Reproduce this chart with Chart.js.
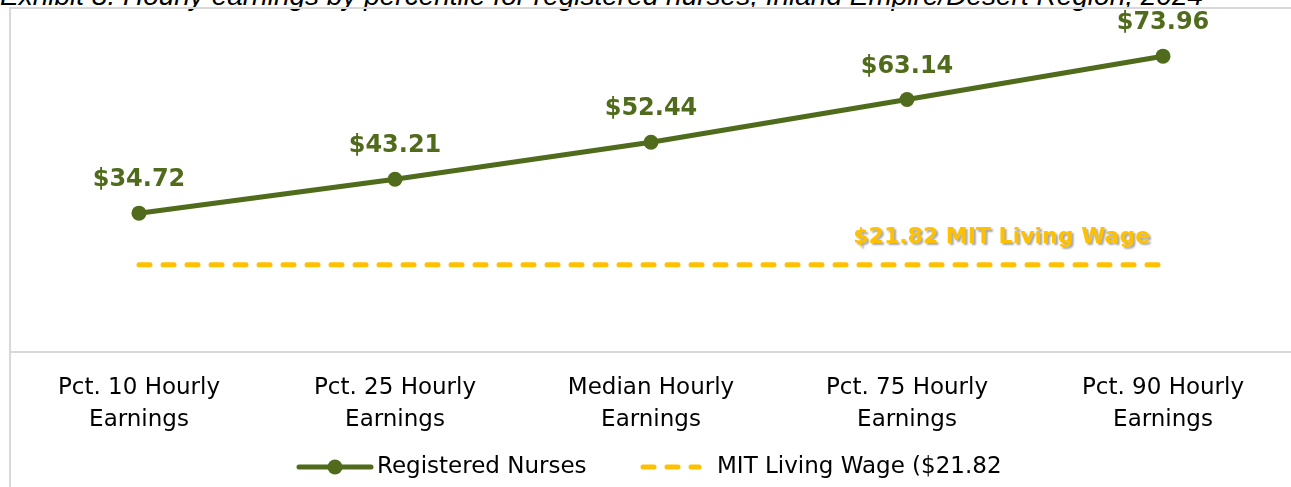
<!DOCTYPE html>
<html>
<head>
<meta charset="utf-8">
<script src="https://cdn.jsdelivr.net/npm/chart.js@4.4.1/dist/chart.umd.min.js"></script>
<style>
  html, body { margin: 0; padding: 0; background: #fff; overflow: hidden; }
  #wrap { position: relative; width: 1291px; height: 487px; overflow: hidden; }
  #title {
    position: absolute; left: 0; top: -20px; white-space: nowrap;
    font: italic 28px "Liberation Sans", Arial, sans-serif; color: #000;
  }
  #frame {
    position: absolute; left: 9px; top: 7px; width: 1290px; height: 490px;
    border-left: 2px solid #d9d9d9; border-top: 2px solid #d9d9d9;
  }
  #chart { position: absolute; left: 0; top: 0; }
</style>
</head>
<body>
<div id="wrap">
  <div id="title">Exhibit 8. Hourly earnings by percentile for registered nurses, Inland Empire/Desert Region, 2024</div>
  <div id="frame"></div>
  <canvas id="chart" width="1291" height="487"></canvas>
</div>
<script>
var categories = [
    ["Pct. 10 Hourly", "Earnings"],
    ["Pct. 25 Hourly", "Earnings"],
    ["Median Hourly", "Earnings"],
    ["Pct. 75 Hourly", "Earnings"],
    ["Pct. 90 Hourly", "Earnings"]
];
var nurseWages = [34.72, 43.21, 52.44, 63.14, 73.96];
var livingWage = [21.82, 21.82, 21.82, 21.82, 21.82];
var livingWageLabel = "$21.82 MIT Living Wage";
var seriesNames = ["Registered Nurses", "MIT Living Wage ($21.82"];

var GREEN = '#4F6B1B';
var GOLD = '#FFC000';
var FONT = '"DejaVu Sans", sans-serif';

// value labels above the nurse points + the living wage caption
var labelPlugin = {
    id: 'labels',
    afterDatasetsDraw: function (chart) {
        var ctx = chart.ctx;
        var meta = chart.getDatasetMeta(0);
        ctx.save();
        ctx.font = 'bold 24px ' + FONT;
        ctx.fillStyle = GREEN;
        ctx.textAlign = 'center';
        ctx.textBaseline = 'middle';
        meta.data.forEach(function (pt, i) {
            ctx.fillText('$' + nurseWages[i].toFixed(2), pt.x, pt.y - 33);
        });

        // caption for living wage line
        var xs = chart.scales.x, ys = chart.scales.y;
        var x3 = xs.getPixelForValue(3), x4 = xs.getPixelForValue(4);
        var cx = x3 + (x4 - x3) * 0.37;
        var cy = ys.getPixelForValue(livingWage[4]) - 27;
        ctx.font = 'bold 22px ' + FONT;
        ctx.shadowColor = 'rgba(0,0,0,0.35)';
        ctx.shadowOffsetX = 2;
        ctx.shadowOffsetY = 2;
        ctx.shadowBlur = 2;
        ctx.fillStyle = GOLD;
        ctx.fillText(livingWageLabel, cx, cy);
        ctx.restore();
    }
};

// legend at the bottom
var legendPlugin = {
    id: 'customLegend',
    afterDraw: function (chart) {
        var ctx = chart.ctx;
        var y = 467;
        ctx.save();
        ctx.lineCap = 'round';
        // nurses
        ctx.strokeStyle = GREEN;
        ctx.lineWidth = 5;
        ctx.beginPath();
        ctx.moveTo(299, y);
        ctx.lineTo(371, y);
        ctx.stroke();
        ctx.fillStyle = GREEN;
        ctx.beginPath();
        ctx.arc(335, y, 7.5, 0, Math.PI * 2);
        ctx.fill();
        // living wage
        ctx.strokeStyle = GOLD;
        ctx.setLineDash([11, 13]);
        ctx.beginPath();
        ctx.moveTo(643, y);
        ctx.lineTo(699, y);
        ctx.stroke();
        ctx.setLineDash([]);

        ctx.font = '23px ' + FONT;
        ctx.fillStyle = '#000';
        ctx.textAlign = 'left';
        ctx.textBaseline = 'middle';
        ctx.fillText(seriesNames[0], 377, y);
        ctx.fillText(seriesNames[1], 717, y);
        ctx.restore();
    }
};

new Chart(document.getElementById('chart').getContext('2d'), {
    type: 'line',
    data: {
        labels: categories,
        datasets: [{
            label: seriesNames[0],
            data: nurseWages,
            borderColor: GREEN,
            backgroundColor: GREEN,
            borderWidth: 5,
            pointRadius: 7.5,
            pointBorderWidth: 0,
            pointBackgroundColor: GREEN,
            tension: 0
        }, {
            label: seriesNames[1],
            data: livingWage,
            borderColor: GOLD,
            borderWidth: 5,
            borderDash: [11, 13],
            borderCapStyle: 'round',
            pointRadius: 0,
            tension: 0
        }]
    },
    options: {
        responsive: false,
        animation: false,
        layout: {
            autoPadding: false,
            padding: { left: 11, right: 0, top: 8, bottom: 39 }
        },
        plugins: {
            legend: { display: false },
            tooltip: { enabled: false }
        },
        scales: {
            x: {
                offset: true,
                grid: { display: false },
                border: { display: true, color: '#d9d9d9', width: 2 },
                ticks: {
                    color: '#000',
                    padding: 12,
                    maxRotation: 0,
                    font: { family: FONT, size: 23, lineHeight: 1.39 }
                }
            },
            y: {
                display: false,
                min: 0,
                max: 86
            }
        }
    },
    plugins: [labelPlugin, legendPlugin]
});
</script>
</body>
</html>
